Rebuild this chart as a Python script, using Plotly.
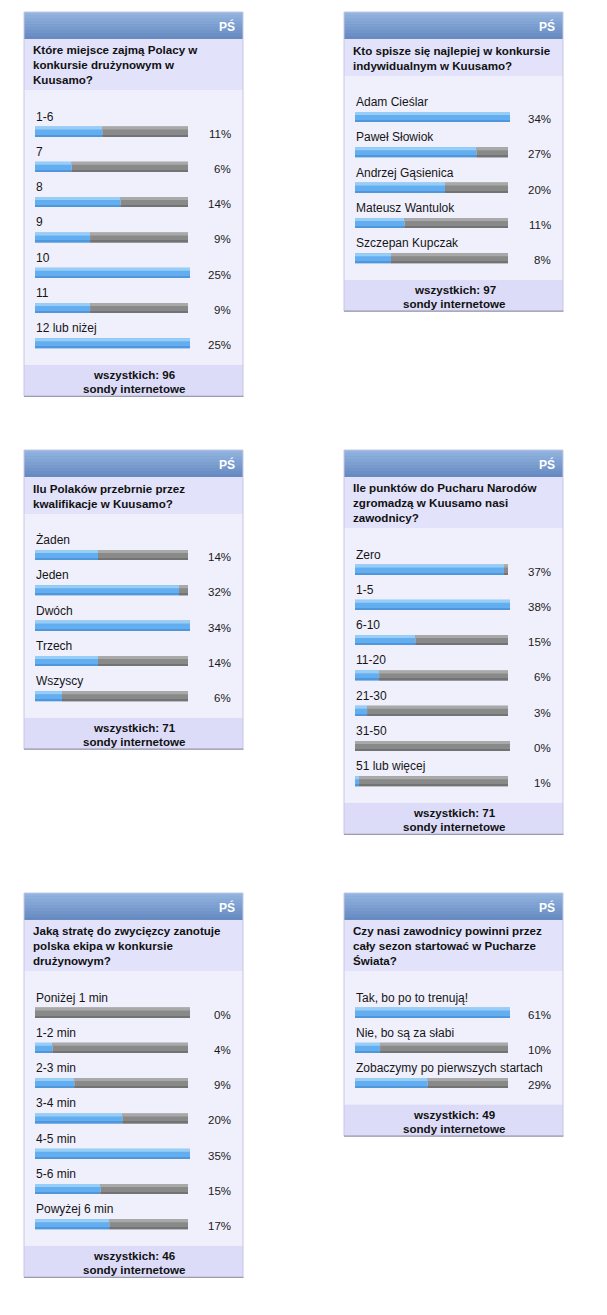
import plotly.graph_objects as go

# --------------------------------------------------------------- data

P1_QUESTION = ["Które miejsce zajmą Polacy w", "konkursie drużynowym w", "Kuusamo?"]
P1_LABELS = ["1-6", "7", "8", "9", "10", "11", "12 lub niżej"]
P1_VALUES = [11, 6, 14, 9, 25, 9, 25]
P1_TOTAL = 96

P2_QUESTION = ["Kto spisze się najlepiej w konkursie", "indywidualnym w Kuusamo?"]
P2_LABELS = ["Adam Cieślar", "Paweł Słowiok", "Andrzej Gąsienica", "Mateusz Wantulok", "Szczepan Kupczak"]
P2_VALUES = [34, 27, 20, 11, 8]
P2_TOTAL = 97

P3_QUESTION = ["Ilu Polaków przebrnie przez", "kwalifikacje w Kuusamo?"]
P3_LABELS = ["Żaden", "Jeden", "Dwóch", "Trzech", "Wszyscy"]
P3_VALUES = [14, 32, 34, 14, 6]
P3_TOTAL = 71

P4_QUESTION = ["Ile punktów do Pucharu Narodów", "zgromadzą w Kuusamo nasi", "zawodnicy?"]
P4_LABELS = ["Zero", "1-5", "6-10", "11-20", "21-30", "31-50", "51 lub więcej"]
P4_VALUES = [37, 38, 15, 6, 3, 0, 1]
P4_TOTAL = 71

P5_QUESTION = ["Jaką stratę do zwycięzcy zanotuje", "polska ekipa w konkursie", "drużynowym?"]
P5_LABELS = ["Poniżej 1 min", "1-2 min", "2-3 min", "3-4 min", "4-5 min", "5-6 min", "Powyżej 6 min"]
P5_VALUES = [0, 4, 9, 20, 35, 15, 17]
P5_TOTAL = 46

P6_QUESTION = ["Czy nasi zawodnicy powinni przez", "cały sezon startować w Pucharze", "Świata?"]
P6_LABELS = ["Tak, bo po to trenują!", "Nie, bo są za słabi", "Zobaczymy po pierwszych startach"]
P6_VALUES = [61, 10, 29]
P6_TOTAL = 49

HEADER_TEXT = "PŚ"
FOOTER_TEXT = "sondy internetowe"

# --------------------------------------------------------------- layout

W, H = 607, 1315
PAGE_MARGIN = 8     # browser body margin around the plot div
COL_LEFTS = [24, 344]
ROW_TOPS = [12, 450, 893]
PANEL_W = 219
HEADER_H = 27
LINE_H = 14.5
ROW_H = 35.3
FOOT_H = 31.5
BAR_X = 11          # bar start, from panel left
BAR_W = 153         # track width when both segments show
BAR_W_SOLO = 155    # single segment image is a bit wider
BAR_H = 10

FONT = "Liberation Sans, Arial, sans-serif"
BLUE, BLUE_HI, BLUE_LO = "#62aef0", "#98cef6", "#4f97da"
GRAY, GRAY_HI, GRAY_LO = "#898989", "#a9a9a9", "#737373"
Q_BG, BODY_BG, FOOT_BG = "#e2e2fa", "#f0f0fd", "#dddcf8"

polls = [
    (0, 0, P1_QUESTION, P1_LABELS, P1_VALUES, P1_TOTAL),
    (1, 0, P2_QUESTION, P2_LABELS, P2_VALUES, P2_TOTAL),
    (0, 1, P3_QUESTION, P3_LABELS, P3_VALUES, P3_TOTAL),
    (1, 1, P4_QUESTION, P4_LABELS, P4_VALUES, P4_TOTAL),
    (0, 2, P5_QUESTION, P5_LABELS, P5_VALUES, P5_TOTAL),
    (1, 2, P6_QUESTION, P6_LABELS, P6_VALUES, P6_TOTAL),
]


def lerp_color(c0, c1, t):
    return "rgb(%d,%d,%d)" % tuple(round(a + (b - a) * t) for a, b in zip(c0, c1))


shapes, annotations = [], []
bars = {k: {"y": [], "x": [], "base": []} for k in ("blue", "gray")}


def rect(x0, y0, x1, y1, fill, line=None):
    shapes.append(dict(type="rect", xref="x", yref="y", x0=x0, y0=y0, x1=x1, y1=y1,
                       fillcolor=fill, line=dict(width=1 if line else 0, color=line or fill),
                       layer="below"))


def text(x, y, s, size, color="#111", bold=False, anchor="left"):
    annotations.append(dict(x=x, y=y, xref="x", yref="y", text=s, showarrow=False,
                            xanchor=anchor, yanchor="middle", align=anchor,
                            font=dict(family=FONT, size=size, color=color,
                                      weight="bold" if bold else "normal")))


for col, row, question, labels, values, total in polls:
    left = COL_LEFTS[col]
    right = left + PANEL_W
    top = ROW_TOPS[row]
    hdr_bot = top + HEADER_H
    q_bot = hdr_bot + LINE_H * len(question) + 8
    first = q_bot + 41
    centres = [first + i * ROW_H for i in range(len(values))]
    foot_top = centres[-1] + 21.5
    foot_bot = foot_top + FOOT_H

    # header gradient
    n = 9
    for i in range(n):
        y0 = top + i * HEADER_H / n
        rect(left, y0, right, y0 + HEADER_H / n + 0.3,
             lerp_color((144, 179, 223), (103, 139, 193), i / (n - 1)))
    text(right - 6, (top + hdr_bot) / 2 + 0.5, HEADER_TEXT, 12, "white", True, "right")

    # question, body, footer backgrounds
    rect(left, hdr_bot, right, q_bot, Q_BG)
    rect(left, q_bot, right, foot_top, BODY_BG)
    rect(left, foot_top, right, foot_bot, FOOT_BG)
    # panel frame
    shapes.append(dict(type="rect", xref="x", yref="y", x0=left, y0=top, x1=right, y1=foot_bot,
                       line=dict(width=1, color="#c6c6e2"), fillcolor="rgba(0,0,0,0)"))
    shapes.append(dict(type="line", xref="x", yref="y", x0=left, y0=foot_bot, x1=right + 0.5,
                       y1=foot_bot, line=dict(width=1.2, color="#9c9cae")))

    text(left + 7, hdr_bot + 4 + LINE_H * len(question) / 2, "<br>".join(question), 11.6,
         "#111", True)

    vmax = max(values)
    for c, label, v in zip(centres, labels, values):
        r = v / vmax
        w = BAR_W if 0 < r < 1 else BAR_W_SOLO
        x0 = left + BAR_X
        blue_len = r * w
        if blue_len > 0:
            bars["blue"]["y"].append(c)
            bars["blue"]["x"].append(blue_len)
            bars["blue"]["base"].append(x0)
        if w - blue_len > 0:
            bars["gray"]["y"].append(c)
            bars["gray"]["x"].append(w - blue_len)
            bars["gray"]["base"].append(x0 + blue_len)
        text(left + BAR_X - 1, c - 15, label, 12, "#151515")
        text(left + 209, c + 2, f"{v}%", 11.5, "#1a1a1a", anchor="right")

    cx = (left + right) / 2 + 1
    text(cx, foot_top + 9.5, f"wszystkich: {total}", 11.6, "#111", True, "center")
    text(cx, foot_top + 23.5, FOOTER_TEXT, 11.6, "#111", True, "center")


fig = go.Figure()
for key, main, hi, lo in (("blue", BLUE, BLUE_HI, BLUE_LO), ("gray", GRAY, GRAY_HI, GRAY_LO)):
    b = bars[key]
    # body, top highlight, bottom shade
    fig.add_trace(go.Bar(y=b["y"], x=b["x"], base=b["base"], orientation="h", width=BAR_H,
                         marker=dict(color=main, line=dict(width=0)), hoverinfo="skip"))
    fig.add_trace(go.Bar(y=[c - BAR_H / 2 + 1.5 for c in b["y"]], x=b["x"], base=b["base"],
                         orientation="h", width=3, marker=dict(color=hi, line=dict(width=0)),
                         hoverinfo="skip"))
    fig.add_trace(go.Bar(y=[c + BAR_H / 2 - 0.75 for c in b["y"]], x=b["x"], base=b["base"],
                         orientation="h", width=1.5, marker=dict(color=lo, line=dict(width=0)),
                         hoverinfo="skip"))

# the page puts the plot 8px in from the corner, so the figure covers the rest
fig.update_layout(
    width=W - PAGE_MARGIN, height=H - PAGE_MARGIN, margin=dict(l=0, r=0, t=0, b=0),
    paper_bgcolor="white", plot_bgcolor="white",
    barmode="overlay", showlegend=False,
    shapes=shapes, annotations=annotations,
    xaxis=dict(range=[PAGE_MARGIN, W], visible=False, fixedrange=True),
    yaxis=dict(range=[H, PAGE_MARGIN], visible=False, fixedrange=True),
)
fig.write_html("out.html", config={"displayModeBar": False})
